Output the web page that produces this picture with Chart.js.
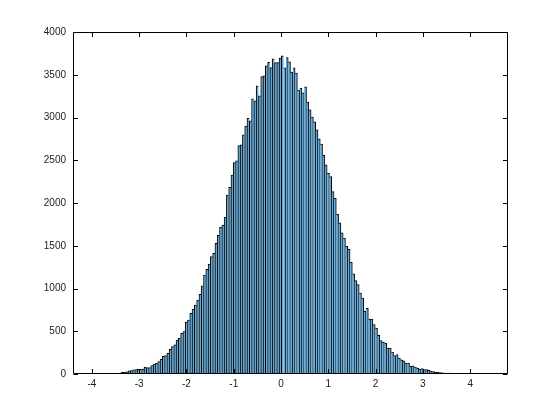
<!DOCTYPE html>
<html>
<head>
<meta charset="utf-8">
<script src="https://cdn.jsdelivr.net/npm/chart.js@4/dist/chart.umd.min.js"></script>
<style>
  body { margin: 0; background: #fff; }
  #wrap { width: 560px; height: 420px; }
</style>
</head>
<body>
<div id="wrap"><canvas id="histChart" width="560" height="420"></canvas></div>
<script>
// histogram bins span the x limits of the axes
const binEdgeMin = -4.4;
const binEdgeMax = 4.8;

// counts per bin (left to right)
const counts = [
    0, 0, 0, 0, 1, 1, 0, 1, 1, 1, 1, 2, 2, 2, 3, 4, 4, 6, 8, 9, 12,
    20, 23, 25, 36, 40, 50, 52, 54, 55, 58, 82, 74, 76, 98, 117, 125, 144,
    172, 208, 215, 242, 288, 320, 340, 398, 418, 476, 495, 608, 632, 710, 760, 807,
    866, 932, 1030, 1158, 1225, 1283, 1372, 1412, 1529, 1623, 1716, 1743, 1833, 2094,
    2184, 2328, 2472, 2492, 2671, 2680, 2796, 2901, 2991, 2960, 3217, 3194, 3370, 3253,
    3478, 3486, 3603, 3646, 3584, 3685, 3642, 3642, 3694, 3721,
    3580, 3700, 3650, 3530, 3580, 3520, 3320, 3345, 3290, 3360, 3180, 3090, 3005, 2950,
    2855, 2750, 2690, 2560,
    2445, 2347, 2309, 2133, 2055, 1868, 1767, 1650, 1591, 1493, 1458, 1310,
    1173, 1092, 1045, 947, 889, 737, 768, 643, 643, 577, 538, 452, 390, 374, 363,
    304, 304, 257, 214, 226, 187, 167, 153, 128, 128, 89, 97, 82, 70, 58,
    62, 51, 52, 44, 31, 27, 23, 22, 16, 13, 12, 11, 12, 8, 7, 8, 6, 7, 6, 5,
    4, 3, 4, 2, 3, 3, 1, 1, 0, 1, 0, 1, 2, 0, 0, 1, 0, 1
];

const xTicks = [-4, -3, -2, -1, 0, 1, 2, 3, 4];
const yTicks = [0, 500, 1000, 1500, 2000, 2500, 3000, 3500, 4000];

const binWidth = (binEdgeMax - binEdgeMin) / counts.length;
const binCenters = counts.map((_, i) => binEdgeMin + binWidth * (i + 0.5));
const peakIndex = counts.indexOf(Math.max(...counts));

// box around the axes with the ticks pointing inwards (matlab look)
const frameTicks = {
    id: 'frameTicks',
    afterDraw(chart) {
        const { ctx, chartArea: a, scales } = chart;
        const len = 4.5;
        const l = Math.round(a.left) + 0.5, r = Math.round(a.right) - 0.5;
        const t = Math.round(a.top) + 0.5, b = Math.round(a.bottom) - 0.5;
        ctx.save();
        ctx.strokeStyle = '#000';
        ctx.lineWidth = 1;
        ctx.beginPath();
        ctx.rect(l, t, r - l, b - t);
        xTicks.forEach(v => {
            const px = Math.round(scales.x.getPixelForValue(v)) + 0.5;
            ctx.moveTo(px, b); ctx.lineTo(px, b - len);
            ctx.moveTo(px, t); ctx.lineTo(px, t + len);
        });
        yTicks.forEach(v => {
            const py = Math.round(scales.y.getPixelForValue(v)) + 0.5;
            ctx.moveTo(l, py); ctx.lineTo(l + len, py);
            ctx.moveTo(r, py); ctx.lineTo(r - len, py);
        });
        ctx.stroke();
        ctx.restore();
    }
};

Chart.defaults.font.family = '"Liberation Sans", Arial, sans-serif';
Chart.defaults.font.size = 10;
Chart.defaults.color = '#222';

const ctx = document.getElementById('histChart').getContext('2d');
new Chart(ctx, {
    type: 'bar',
    data: {
        datasets: [{
            data: binCenters.map((c, i) => ({ x: c, y: counts[i] })),
            backgroundColor: 'rgb(102, 170, 215)',
            borderColor: '#000',
            // one black edge per bar, on the side facing the peak
            borderWidth: (c) => c.dataIndex <= peakIndex
                ? { top: 1, left: 1, right: 0, bottom: 0 }
                : { top: 1, left: 0, right: 1, bottom: 0 },
            barPercentage: 1,
            categoryPercentage: 1
        }]
    },
    options: {
        responsive: false,
        animation: false,
        layout: { padding: { top: 32, right: 52, left: 0, bottom: 0 } },
        plugins: {
            legend: { display: false },
            tooltip: { enabled: false }
        },
        scales: {
            x: {
                type: 'linear',
                min: binEdgeMin,
                max: binEdgeMax,
                offset: false,
                grid: { display: false, drawTicks: false },
                border: { display: false },
                ticks: { padding: 4, maxRotation: 0, callback: (v) => String(v) },
                afterBuildTicks: (s) => { s.ticks = xTicks.map(v => ({ value: v })); },
                afterFit: (s) => { s.height = 46; }
            },
            y: {
                min: 0,
                max: 4000,
                grid: { display: false, drawTicks: false },
                border: { display: false },
                ticks: { padding: 7, callback: (v) => String(v) },
                afterBuildTicks: (s) => { s.ticks = yTicks.map(v => ({ value: v })); },
                afterFit: (s) => { s.width = 73; }
            }
        }
    },
    plugins: [frameTicks]
});
</script>
</body>
</html>
